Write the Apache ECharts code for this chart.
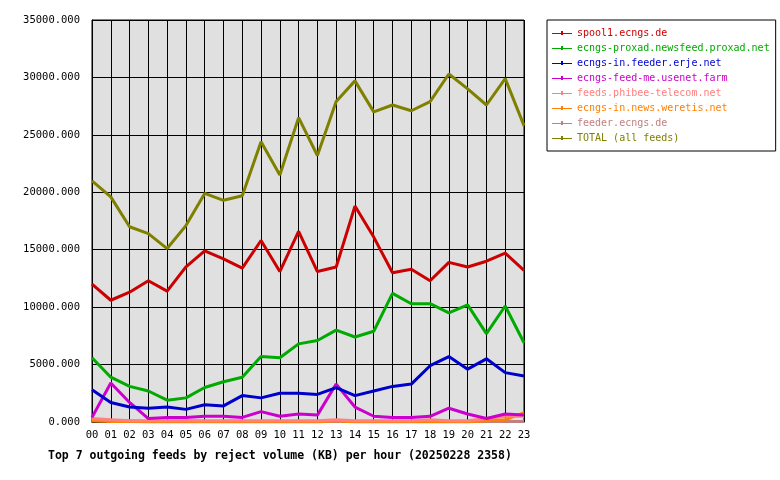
<!DOCTYPE html>
<html><head><meta charset="utf-8">
<script src="https://cdn.jsdelivr.net/npm/echarts@6/dist/echarts.min.js"></script>
<style>body{margin:0;background:#fff}#c{width:780px;height:480px}</style>
</head><body><div id="c"></div>
<script>
var hours = ['00','01','02','03','04','05','06','07','08','09','10','11','12','13','14','15','16','17','18','19','20','21','22','23'];
var names = ['spool1.ecngs.de','ecngs-proxad.newsfeed.proxad.net','ecngs-in.feeder.erje.net','ecngs-feed-me.usenet.farm','feeds.phibee-telecom.net','ecngs-in.news.weretis.net','feeder.ecngs.de','TOTAL (all feeds)'];
var colors = ['#cc0000','#00aa00','#0000cc','#cc00cc','#ff8080','#ff8000','#c08080','#808000'];
var spool1 = [12000,10600,11300,12300,11400,13500,14900,14200,13400,15800,13100,16600,13100,13500,18800,16100,13000,13300,12300,13900,13500,14000,14700,13200];
var proxad = [5600,3900,3100,2700,1900,2100,3000,3500,3900,5700,5600,6800,7100,8000,7400,7900,11200,10300,10300,9500,10200,7700,10100,6900];
var erje = [2800,1700,1300,1200,1300,1100,1500,1400,2300,2100,2500,2500,2400,3000,2300,2700,3100,3300,4900,5700,4600,5500,4300,4000];
var usenetFarm = [400,3400,1700,300,400,400,500,500,400,900,500,700,600,3300,1300,500,400,400,500,1200,700,300,700,600];
var phibee = [300,200,100,100,100,100,100,100,100,100,100,100,100,200,100,100,100,100,200,100,100,300,500,500];
var weretis = [100,50,50,0,0,0,0,0,0,0,0,0,0,100,0,0,0,0,0,0,0,100,200,800];
var feederEcngs = [100,100,100,50,50,100,50,50,50,50,50,50,50,50,50,50,50,50,50,50,50,50,50,50];
var total = [21000,19600,17000,16400,15100,17100,19900,19300,19700,24400,21500,26500,23200,27900,29700,27000,27600,27100,27900,30300,29000,27600,29900,25800];
var seriesData = [spool1,proxad,erje,usenetFarm,phibee,weretis,feederEcngs,total];

var chart = echarts.init(document.getElementById('c'));
var font = 'DejaVu Sans Mono';
chart.setOption({
  animation: false,
  textStyle: {fontFamily: font},
  color: colors,
  grid: {left: 92, right: 256, top: 20, bottom: 58, show: true, backgroundColor: '#e0e0e0', borderColor: '#000', borderWidth: 1},
  title: {text: 'Top 7 outgoing feeds by reject volume (KB) per hour (20250228 2358)', left: 43, top: 445,
    textStyle: {fontFamily: font, fontSize: 11.5, fontWeight: 'bold', color: '#000'}},
  legend: {orient: 'vertical', left: 547, top: 20, itemWidth: 20, itemHeight: 8, itemGap: 5,
    borderColor: '#000', borderWidth: 1, padding: [8, 6, 8, 5], icon: 'path://M0,4L9,4L9,2L11,2L11,4L20,4L20,5L11,5L11,6L9,6L9,5L0,5Z',
    data: names.map(function (n, i) { return {name: n, textStyle: {color: colors[i]}}; }),
    textStyle: {fontFamily: font, fontSize: 10, lineHeight: 10}},
  xAxis: {type: 'category', data: hours, boundaryGap: false,
    axisLine: {lineStyle: {color: '#000'}}, axisTick: {show: false},
    splitLine: {show: true, lineStyle: {color: '#000', width: 1}},
    axisLabel: {color: '#000', fontSize: 10.5, fontFamily: font, interval: 0}},
  yAxis: {type: 'value', min: 0, max: 35000, interval: 5000,
    axisLine: {show: true, lineStyle: {color: '#000'}}, axisTick: {show: false},
    splitLine: {lineStyle: {color: '#000', width: 1}},
    axisLabel: {color: '#000', fontSize: 10.5, fontFamily: font, margin: 12, formatter: function (v) { return v.toFixed(3); }}},
  series: seriesData.map(function (d, i) {
    return {name: names[i], type: 'line', data: d, symbol: 'none', lineStyle: {width: 3, color: colors[i]}, z: i === 7 ? 3 : 10 - i};
  })
});
</script></body></html>
